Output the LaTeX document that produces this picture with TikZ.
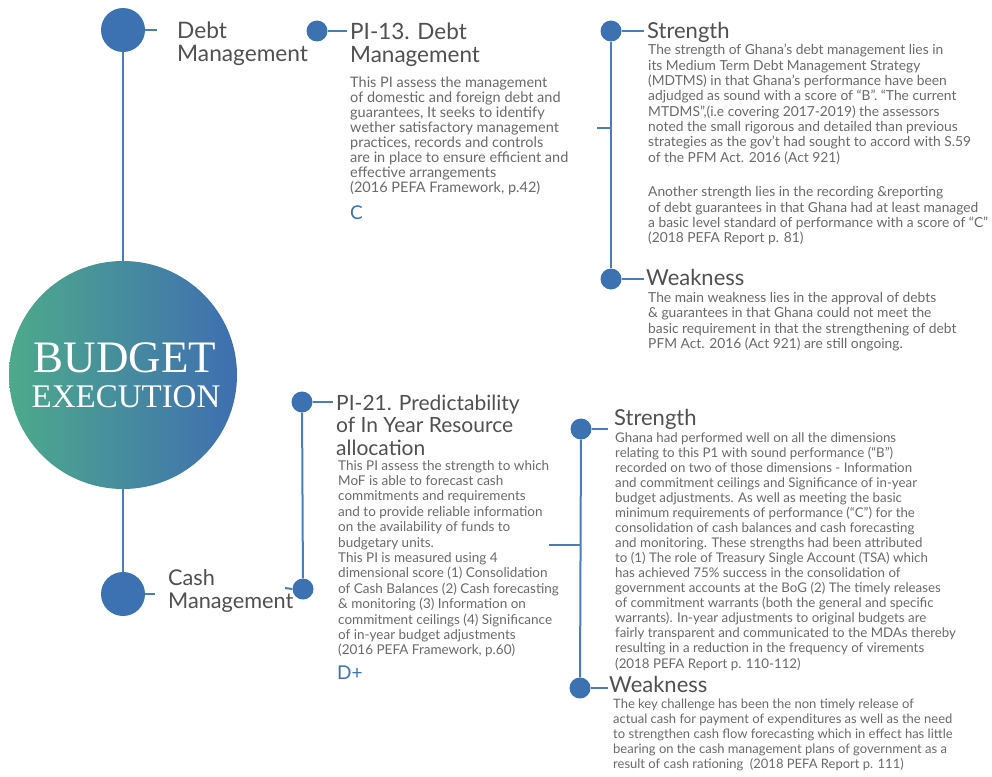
\documentclass[tikz,border=0pt]{standalone}
\usepackage{fontspec}
\setmainfont{Lato}
\newfontfamily\bigserif{Liberation Serif}
\definecolor{dotblue}{HTML}{3C72B2}
\definecolor{lineblue}{HTML}{4A7EBA}
\definecolor{bodygray}{HTML}{6A6A6A}
\definecolor{headgray}{HTML}{505050}
\definecolor{cgreen}{HTML}{4DAA8B}
\definecolor{cblue}{HTML}{3F6EB1}
\begin{document}
\begin{tikzpicture}[x=1pt,y=-1pt,
  bigdot/.style={circle,fill=dotblue,minimum size=44pt,inner sep=0pt},
  smalldot/.style={circle,fill=dotblue,minimum size=21pt,inner sep=0pt},
  conn/.style={draw=lineblue,line width=2pt},
  headB/.style={anchor=base west,inner sep=0pt,text=headgray,font=\fontsize{22}{22}\selectfont},
  title/.style={anchor=base west,inner sep=0pt,text=headgray},
  body/.style={anchor=base west,inner sep=0pt,text=bodygray},
  grade/.style={anchor=base west,inner sep=0pt,text=dotblue,font=\fontsize{19}{19}\selectfont}]
\useasboundingbox[fill=white] (0,0) rectangle (992,776);

% main circle
\node[circle,minimum size=228pt,inner sep=0pt,left color=cgreen,right color=cblue] (be) at (123,375) {};
\node[anchor=base,inner sep=0pt,text=white,font=\bigserif\fontsize{45}{45}\selectfont] (bud) at (125,372) {BUDGET};
\node[anchor=base,inner sep=0pt,text=white,font=\bigserif\fontsize{33}{33}\selectfont] (exe) at (126,407) {EXECUTION};

% category dots
\node[bigdot] (dm) at (123,30) {};
\node[bigdot] (cm) at (123,594) {};
\draw[conn] (dm) -- (be);
\draw[conn] (be) -- (cm);
\coordinate (dmt) at (157,30);
\coordinate (cmt) at (155,594);
\draw[conn] (dm.east) -- (dmt);
\draw[conn] (cm.east) -- (cmt);
\node[title] (dmtext) at (177,39) {\parbox[t]{140pt}{\fontsize{22.7}{23}\selectfont Debt\\Management}};
\node[title] (cmtext) at (168,585) {\parbox[t]{140pt}{\fontsize{21.7}{23}\selectfont Cash\\Management}};

% PI-13
\node[smalldot] (p13) at (317,31) {};
\coordinate (p13t) at (347,31);
\draw[conn] (p13.east) -- (p13t);
\node[title] (p13title) at (350,40) {\parbox[t]{240pt}{\fontsize{22.5}{23}\selectfont PI-13. Debt\\Management}};
\node[body] (p13body) at (350,87) {\parbox[t]{250pt}{\raggedright\fontsize{14.5}{15}\selectfont
This PI assess the management\\
of domestic and foreign debt and\\
guarantees, It seeks to identify\\
wether satisfactory management\\
practices, records and controls\\
are in place to ensure efficient and\\
effective arrangements\\
(2016 PEFA Framework, p.42)}};
\node[grade] (p13g) at (350,219) {C};

% top strength / weakness
\node[smalldot] (s1) at (611,31) {};
\node[smalldot] (w1) at (611,279) {};
\draw[conn] (s1) -- (w1);
\coordinate (s1t) at (644,31);
\coordinate (w1t) at (644,279);
\coordinate (k1a) at (597,128);
\coordinate (k1b) at (611,128);
\draw[conn] (s1.east) -- (s1t);
\draw[conn] (w1.east) -- (w1t);
\draw[conn] (k1a) -- (k1b);
\node[headB] (s1h) at (647,38) {Strength};
\node[body] (s1body) at (648,55) {\parbox[t]{340pt}{\raggedright\fontsize{13.8}{15.3}\selectfont
The strength of Ghana’s debt management lies in\\
its Medium Term Debt Management Strategy\\
(MDTMS) in that Ghana’s performance have been\\
adjudged as sound with a score of “B”. “The current\\
MTDMS”,(i.e covering 2017-2019) the assessors\\
noted the small rigorous and detailed than previous\\
strategies as the gov’t had sought to accord with S.59\\
of the PFM Act. 2016 (Act 921)\\[19.5pt]
Another strength lies in the recording \&reporting\\
of debt guarantees in that Ghana had at least managed\\
a basic level standard of performance with a score of “C”\\
(2018 PEFA Report p. 81)}};
\node[headB] (w1h) at (646,285) {Weakness};
\node[body] (w1body) at (648,302) {\parbox[t]{340pt}{\raggedright\fontsize{13.8}{15.5}\selectfont
The main weakness lies in the approval of debts\\
\& guarantees in that Ghana could not meet the\\
basic requirement in that the strengthening of debt\\
PFM Act. 2016 (Act 921) are still ongoing.}};

% PI-21
\node[smalldot] (p21) at (302,402) {};
\node[smalldot] (p21b) at (303,589) {};
\draw[conn] (p21) -- (p21b);
\coordinate (p21t) at (333,402);
\coordinate (p21k) at (285,588);
\draw[conn] (p21.east) -- (p21t);
\draw[conn] (p21k) -- (p21b.west);
\node[title] (p21title) at (336,410) {\parbox[t]{240pt}{\fontsize{21}{22.5}\selectfont PI-21. Predictability\\of In Year Resource\\allocation}};
\node[body] (p21body) at (338,470) {\parbox[t]{250pt}{\raggedright\fontsize{13.5}{15.4}\selectfont
This PI assess the strength to which\\
MoF is able to forecast cash\\
commitments and requirements\\
and to provide reliable information\\
on the availability of funds to\\
budgetary units.\\
This PI is measured using 4\\
dimensional score (1) Consolidation\\
of Cash Balances (2) Cash forecasting\\
\& monitoring (3) Information on\\
commitment ceilings (4) Significance\\
of in-year budget adjustments\\
(2016 PEFA Framework, p.60)}};
\node[grade] (p21g) at (337,679) {D+};

% bottom strength / weakness
\node[smalldot] (s2) at (581,429) {};
\node[smalldot] (w2) at (580,688) {};
\draw[conn] (s2) -- (w2);
\coordinate (s2t) at (608,429);
\coordinate (w2t) at (608,688);
\coordinate (k2a) at (549,545);
\coordinate (k2b) at (581,545);
\draw[conn] (s2.east) -- (s2t);
\draw[conn] (w2.east) -- (w2t);
\draw[conn] (k2a) -- (k2b);
\node[headB] (s2h) at (614,425) {Strength};
\node[body] (s2body) at (615,442) {\parbox[t]{370pt}{\raggedright\fontsize{13.3}{15.07}\selectfont
Ghana had performed well on all the dimensions\\
relating to this P1 with sound performance (“B”)\\
recorded on two of those dimensions - Information\\
and commitment ceilings and Significance of in-year\\
budget adjustments. As well as meeting the basic\\
minimum requirements of performance (“C”) for the\\
consolidation of cash balances and cash forecasting\\
and monitoring. These strengths had been attributed\\
to (1) The role of Treasury Single Account (TSA) which\\
has achieved 75\% success in the consolidation of\\
government accounts at the BoG (2) The timely releases\\
of commitment warrants (both the general and specific\\
warrants). In-year adjustments to original budgets are\\
fairly transparent and communicated to the MDAs thereby\\
resulting in a reduction in the frequency of virements\\
(2018 PEFA Report p. 110-112)}};
\node[headB] (w2h) at (609,692) {Weakness};
\node[body] (w2body) at (613,708) {\parbox[t]{370pt}{\raggedright\fontsize{13}{15}\selectfont
The key challenge has been the non timely release of\\
actual cash for payment of expenditures as well as the need\\
to strengthen cash flow forecasting which in effect has little\\
bearing on the cash management plans of government as a\\
result of cash rationing \ (2018 PEFA Report p. 111)}};
\end{tikzpicture}
\end{document}
